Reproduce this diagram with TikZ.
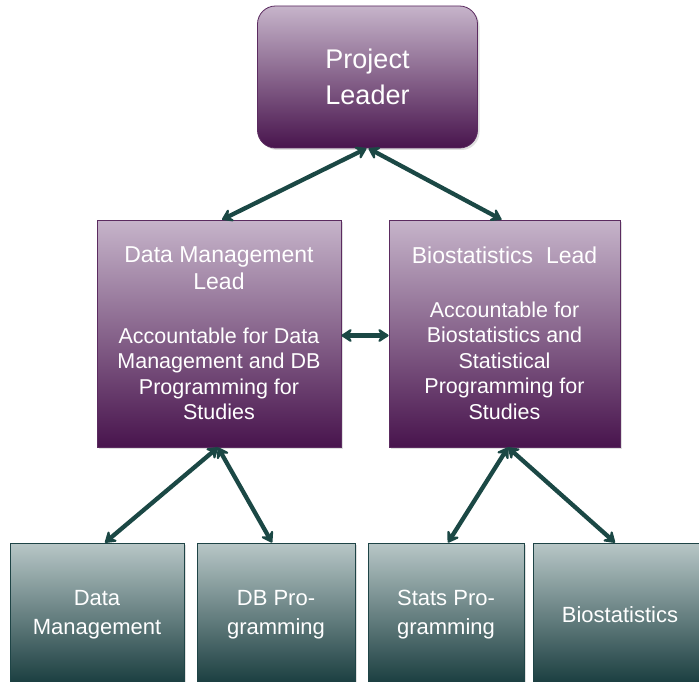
\documentclass[tikz,border=0pt]{standalone}
\usepackage{fontspec}
\setmainfont{Liberation Sans}
\usetikzlibrary{arrows.meta,shadows}
\definecolor{plTop}{HTML}{C6B4CA}
\definecolor{plBot}{HTML}{48144D}
\definecolor{plEdge}{HTML}{5B2B60}
\definecolor{tlTop}{HTML}{B8C7C7}
\definecolor{tlBot}{HTML}{163A3C}
\definecolor{tlEdge}{HTML}{1E4446}
\definecolor{connCol}{HTML}{1B4845}
\begin{document}
\begin{tikzpicture}[x=1pt,y=-1pt,
  purplebox/.style={draw=plEdge, line width=0.8pt, top color=plTop, bottom color=plBot,
    text=white, align=center, inner sep=0pt,
    drop shadow={opacity=0.25, shadow xshift=2pt, shadow yshift=-2pt}},
  tealbox/.style={draw=tlEdge, line width=0.8pt, top color=tlTop, bottom color=tlBot,
    text=white, align=center, inner sep=0pt, minimum height=144pt,
    font=\fontsize{22}{29}\selectfont,
    drop shadow={opacity=0.25, shadow xshift=2pt, shadow yshift=-2pt}},
  leadfont/.style={font=\fontsize{21.5}{25.5}\selectfont},
  conn/.style={draw=connCol, line width=4.3pt,
    {Stealth[length=13pt,width=17pt,inset=5pt,round]}-{Stealth[length=13pt,width=17pt,inset=5pt,round]}}
]
\clip (0,0) rectangle (699,682);
\fill[white] (0,0) rectangle (699,682);

\node[purplebox, rounded corners=18pt, minimum width=220pt, minimum height=142pt,
  font=\fontsize{27}{36}\selectfont] (pl) at (367.5,77) {Project\\Leader};

\node[purplebox, leadfont, minimum width=244pt, minimum height=227pt] (dml) at (219,333.5)
  {{\fontsize{23}{25.5}\selectfont Data Management}\\[1pt]
   {\fontsize{23}{25.5}\selectfont Lead}\\[28.5pt]
   Accountable for Data\\Management and DB\\Programming for\\Studies};

\node[purplebox, leadfont, minimum width=231pt, minimum height=227pt] (bl) at (504.5,333.5)
  {{\fontsize{23}{25.5}\selectfont Biostatistics\ \ Lead}\\[28pt]
   Accountable for\\Biostatistics and\\Statistical\\Programming for\\Studies};

\node[tealbox, minimum width=174pt] (dm) at (97,615) {Data\\Management};
\node[tealbox, minimum width=158pt] (db) at (276,615) {DB Pro-\\gramming};
\node[tealbox, minimum width=156pt] (sp) at (446,615) {Stats Pro-\\gramming};
\node[tealbox, minimum width=174pt] (bs) at (620,615) {Biostatistics};

\draw[conn] ([xshift=-1pt]pl.south) -- ([xshift=3pt]dml.north);
\draw[conn] ([xshift=1pt]pl.south) -- ([xshift=-3pt]bl.north);
\draw[conn] ([yshift=-2pt]dml.east) -- ([yshift=-2pt]bl.west);
\draw[conn] ([xshift=-1pt]dml.south) -- ([xshift=8pt]dm.north);
\draw[conn] ([xshift=-1pt]dml.south) -- ([xshift=-4pt]db.north);
\draw[conn] ([xshift=3.5pt]bl.south) -- ([xshift=2pt]sp.north);
\draw[conn] ([xshift=3.5pt]bl.south) -- ([xshift=-5pt]bs.north);
\end{tikzpicture}
\end{document}
